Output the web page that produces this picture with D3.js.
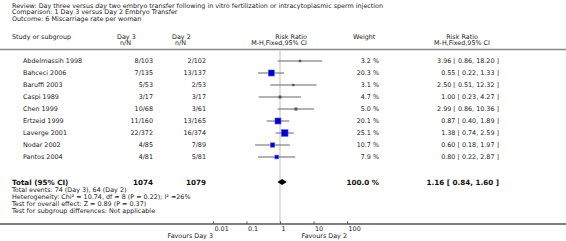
<!DOCTYPE html>
<html><head><meta charset="utf-8">
<script src="https://cdn.jsdelivr.net/npm/d3@7"></script>
<style>body{margin:0;background:#fff}svg{display:block;font-family:"DejaVu Sans",Verdana,sans-serif}</style>
</head><body><svg id="c" width="566" height="241"></svg>
<script>
const studies = ["Abdelmassih 1998","Bahceci 2006","Baruffi 2003","Caspi 1989","Chen 1999","Ertzeid 1999","Laverge 2001","Nodar 2002","Pantos 2004"];
const day3 = ["8/103","7/135","5/53","3/17","10/68","11/160","22/372","4/85","4/81"];
const day2 = ["2/102","13/137","2/53","3/17","3/61","13/165","16/374","7/89","5/81"];
const weights = [3.2,20.3,3.1,4.7,5.0,20.1,25.1,10.7,7.9];
const rr = [3.96,0.55,2.50,1.00,2.99,0.87,1.38,0.60,0.80];
const lo = [0.86,0.22,0.51,0.23,0.86,0.40,0.74,0.18,0.22];
const hi = [18.20,1.33,12.32,4.27,10.36,1.89,2.59,1.97,2.87];
const total = {label:"Total (95% CI)", n3:"1074", n2:"1079", weight:"100.0 %", rr:1.16, lo:0.84, hi:1.60};
const tickVals = [0.01,0.1,1,10,100];
const tickLabels = ["0.01","0.1","1","10","100"];
const headerLines = ["Review:  Day three versus day two embryo transfer following in vitro fertilization or intracytoplasmic sperm injection",
  "Comparison:  1 Day 3 versus Day 2 Embryo Transfer","Outcome:  6 Miscarriage rate per woman"];
const footLines = ["Total events: 74 (Day 3), 64 (Day 2)","Heterogeneity: Chi² = 10.74, df = 8 (P = 0.22); I² =26%",
  "Test for overall effect: Z = 0.89 (P = 0.37)","Test for subgroup differences: Not applicable"];
const favours = ["Favours Day 3","Favours Day 2"];

const svg = d3.select("#c");
const fs = 6.4;
const x = d3.scaleLog().domain([0.01,100]).range([213,347]);
const y = d3.scalePoint().domain(studies).range([61,157]);
const fmt = d3.format(".2f");

// header text
const t0 = svg.append("text").attr("x",12).attr("y",7.5).attr("font-size",fs).attr("fill","#222");
t0.append("tspan").text("Review:  Day three versus ");
t0.append("tspan").attr("font-style","italic").text("day");
t0.append("tspan").text(" two embryo transfer following in vitro fertilization or intracytoplasmic sperm injection");
headerLines.slice(1).forEach((s,i)=>svg.append("text").attr("x",12).attr("y",14+i*6.5).attr("font-size",fs).attr("fill","#222").text(s));

// column headers
const hdr = (tx,xx,yy,anchor)=>svg.append("text").attr("x",xx).attr("y",yy).attr("font-size",fs).attr("fill","#222").attr("text-anchor",anchor).text(tx);
const h1 = 38.5, h2 = 45;
hdr("Study or subgroup",12,h1,"start");
hdr("Day 3",117,h1,"start"); hdr("n/N",131,h2,"end");
hdr("Day 2",172,h1,"start"); hdr("n/N",186,h2,"end");
hdr("Risk Ratio",307,h1,"end"); hdr("M-H,Fixed,95% CI",307,h2,"end");
hdr("Weight",353,h1,"start");
hdr("Risk Ratio",462,h1,"middle"); hdr("M-H,Fixed,95% CI",462,h2,"middle");

// header rule
svg.append("line").attr("x1",0).attr("x2",566).attr("y1",49.5).attr("y2",49.5).attr("stroke","#888").attr("stroke-width",1.5);

// null line
svg.append("line").attr("x1",x(1)).attr("x2",x(1)).attr("y1",51).attr("y2",223).attr("stroke","#d4d4d4").attr("stroke-width",1.5);

// rows
studies.forEach((s,i)=>{
  const yy = y(s);
  const g = svg.append("g");
  g.append("text").attr("x",23).attr("y",yy+2.2).attr("font-size",fs).attr("fill","#222").text(s);
  g.append("text").attr("x",153).attr("y",yy+2.2).attr("font-size",fs).attr("fill","#222").attr("text-anchor","end").text(day3[i]);
  g.append("text").attr("x",206).attr("y",yy+2.2).attr("font-size",fs).attr("fill","#222").attr("text-anchor","end").text(day2[i]);
  g.append("text").attr("x",379).attr("y",yy+2.2).attr("font-size",fs).attr("fill","#222").attr("text-anchor","end").text(weights[i].toFixed(1)+" %");
  g.append("text").attr("x",499).attr("y",yy+2.2).attr("font-size",fs).attr("fill","#222").attr("text-anchor","end")
    .text(`${fmt(rr[i])} [ ${fmt(lo[i])}, ${fmt(hi[i])} ]`);
  g.append("line").attr("x1",x(lo[i])).attr("x2",x(hi[i])).attr("y1",yy).attr("y2",yy).attr("stroke","#666").attr("stroke-width",1);
  const side = 1.34*Math.sqrt(weights[i]);
  g.append("rect").attr("x",x(rr[i])-side/2).attr("y",yy-side/2).attr("width",side).attr("height",side)
    .attr("fill", side<3.2 ? "#555" : "#0000cc").attr("stroke", side<3.2 ? "none" : "#5a5aff").attr("stroke-width",0.6);
});

// total row
const ty = 182;
const tb = (tx,xx,anchor)=>svg.append("text").attr("x",xx).attr("y",ty+2.6).attr("font-size",7.2).attr("font-weight","bold").attr("fill","#111").attr("text-anchor",anchor).text(tx);
tb(total.label,12,"start"); tb(total.n3,153,"end"); tb(total.n2,206,"end"); tb(total.weight,379,"end");
tb(`${fmt(total.rr)} [ ${fmt(total.lo)}, ${fmt(total.hi)} ]`,499,"end");
svg.append("path").attr("d",`M${x(total.lo)},${ty} L${x(total.rr)},${ty-3} L${x(total.hi)},${ty} L${x(total.rr)},${ty+3} Z`).attr("fill","#000");

footLines.forEach((s,i)=>svg.append("text").attr("x",12).attr("y",191.5+i*7).attr("font-size",fs).attr("fill","#222").text(s));

// axis
const ax = svg.append("g").attr("transform","translate(0,224)")
  .call(d3.axisBottom(x).tickValues(tickVals).tickFormat((d,i)=>tickLabels[i]).tickSize(-2.5).tickPadding(3));
ax.select(".domain").remove();
ax.selectAll(".tick line").attr("stroke","#555");
ax.selectAll(".tick text").attr("font-size",fs).attr("fill","#222").attr("font-family","DejaVu Sans")
  .attr("text-anchor","start").attr("y",6.5).attr("dy",0).attr("dx",1);
svg.append("line").attr("x1",0).attr("x2",566).attr("y1",224).attr("y2",224).attr("stroke","#555").attr("stroke-width",1.3);

svg.append("text").attr("x",x(0.01)).attr("y",237.5).attr("font-size",fs).attr("fill","#222").attr("text-anchor","end").text(favours[0]);
svg.append("text").attr("x",x(100)).attr("y",237.5).attr("font-size",fs).attr("fill","#222").attr("text-anchor","end").text(favours[1]);
</script></body></html>
